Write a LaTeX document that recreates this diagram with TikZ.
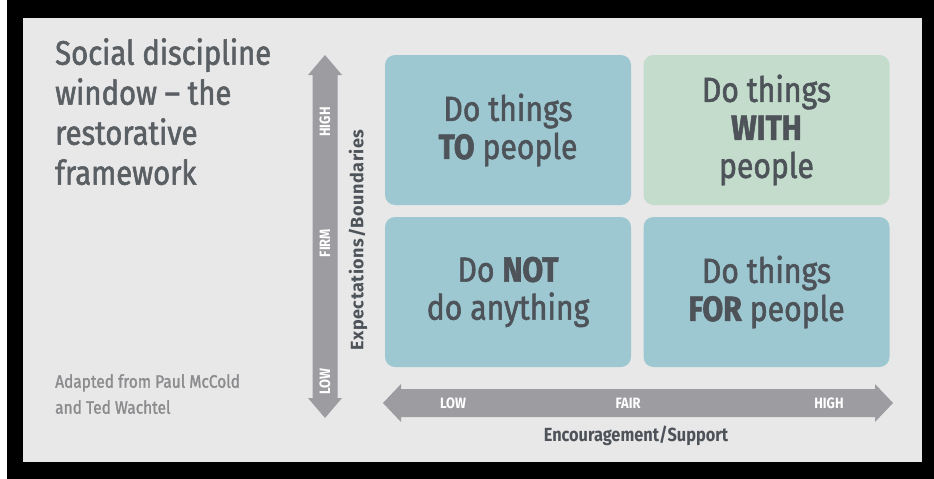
\documentclass[tikz,border=0pt]{standalone}
\usepackage{fontspec}
\setmainfont{Fira Sans}[FakeStretch=0.86]
\newfontfamily\mediumfont{Fira Sans}[FakeStretch=0.86, FakeBold=1.6, Ligatures=TeX]
\newfontfamily\spacedfont{Fira Sans}[LetterSpace=3]
\definecolor{panel}{HTML}{E8E8E9}
\definecolor{teal}{HTML}{9DC8D1}
\definecolor{sage}{HTML}{C3DCCB}
\definecolor{arrowgrey}{HTML}{9C9CA1}
\definecolor{ink}{HTML}{4D5359}
\definecolor{titleink}{HTML}{5A5F64}
\definecolor{noteink}{HTML}{8C8C8E}
\begin{document}
\begin{tikzpicture}[x=1pt,y=-1pt,
  quad/.style={rounded corners=10pt, minimum width=246pt, minimum height=150pt,
    inner sep=0pt, align=center, text=ink,
    font=\mediumfont\fontsize{35pt}{38pt}\selectfont},
  vlabel/.style={rotate=90, text=white, inner sep=0pt,
    font=\bfseries\fontsize{15pt}{15pt}\selectfont},
  hlabel/.style={text=white, inner sep=0pt,
    font=\bfseries\fontsize{15pt}{15pt}\selectfont},
  axistitle/.style={text=ink, inner sep=0pt}]
\useasboundingbox (0,0) rectangle (934,479);
% frame and panel
\fill[black] (7,0) rectangle (934,479);
\fill[panel] (23,18) rectangle (922,462);

% title and credit
\node[anchor=north west, inner sep=0pt, align=left, text=titleink,
  font=\mediumfont\fontsize{34pt}{40pt}\selectfont] (title) at (55,38)
  {Social discipline\\window – the\\restorative\\framework};
\node[anchor=north west, inner sep=0pt, align=left, text=noteink,
  font=\mediumfont\fontsize{18pt}{26pt}\selectfont] (credit) at (55,374)
  {Adapted from Paul McCold\\and Ted Wachtel};

% the four quadrants
\node[quad, fill=teal] (to) at (508,130) {Do things\\\textbf{TO} people};
\node[quad, fill=sage] (with) at (766.5,130) {Do things\\\textbf{WITH}\\people};
\node[quad, fill=teal] (not) at (508,292) {Do \textbf{NOT}\\do anything};
\node[quad, fill=teal] (for) at (766.5,292) {Do things\\\textbf{FOR} people};

% vertical double arrow: expectations
\fill[arrowgrey] (325,55) -- (342,75) -- (337.5,75) -- (337.5,398) -- (342,398)
  -- (325,418) -- (308,398) -- (312.5,398) -- (312.5,75) -- (308,75) -- cycle;
\node[vlabel] (vhigh) at (325,122) {HIGH};
\node[vlabel] (vfirm) at (325,243) {FIRM};
\node[vlabel] (vlow) at (325,382) {LOW};
\node[axistitle, rotate=90, font=\spacedfont\bfseries\fontsize{18pt}{18pt}\selectfont]
  (expect) at (358,240) {Expectations/Boundaries};

% horizontal double arrow: encouragement
\fill[arrowgrey] (383,403) -- (401,384) -- (401,389) -- (875,389) -- (875,384)
  -- (893,403) -- (875,422) -- (875,417) -- (401,417) -- (401,422) -- cycle;
\node[hlabel] (hlow) at (453,403) {LOW};
\node[hlabel] (hfair) at (628,403) {FAIR};
\node[hlabel] (hhigh) at (829,403) {HIGH};
\node[axistitle, font=\bfseries\fontsize{19pt}{19pt}\selectfont]
  (encourage) at (636,436) {Encouragement/Support};
\end{tikzpicture}
\end{document}
